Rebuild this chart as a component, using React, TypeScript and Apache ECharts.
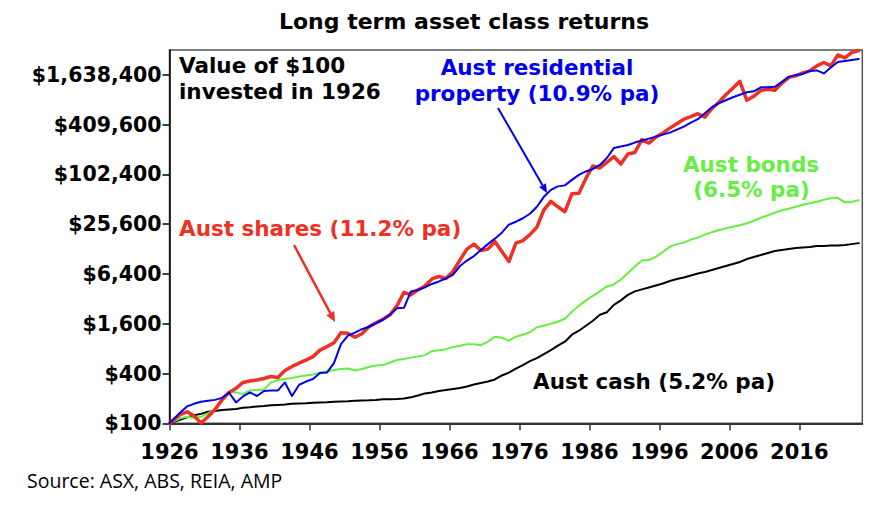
import React, { useEffect, useRef } from "react";
import * as echarts from "echarts";

// Financial years 1926..2024 (1926 = starting point, $100 invested)
const years: number[] = Array.from({ length: 99 }, (_, i) => 1926 + i);

const shares = [
  100, 127, 138, 123, 101, 120, 147, 192, 236, 264,
  312, 325, 334, 348, 368, 358, 435, 486, 535, 582,
  641, 767, 846, 945, 1247, 1229, 1100, 1213, 1472, 1645,
  1813, 2053, 2636, 3832, 3575, 4107, 4589, 5572, 5971, 5649,
  6860, 9436, 12800, 14703, 12278, 12800, 15759, 11943, 9051, 15117,
  16202, 19134, 23557, 38267, 48438, 41587, 36204, 59635, 60467, 91651,
  129608, 122624, 142817, 168673, 137001, 180777, 188457, 270234, 245248, 289628,
  323604, 371722, 421110, 477061, 511304, 555663, 504259, 638280, 764355, 941015,
  1126851, 1368228, 807936, 902676, 1066066, 1096049, 1066066, 1294418, 1528668, 1593590,
  1731789, 1830584, 2102723, 2317025, 2102723, 2852618, 2624881, 3057418, 3231744,
];

const property = [
  100, 134, 160, 172, 182, 187, 192, 203, 236, 179,
  211, 236, 214, 246, 250, 250, 312, 214, 291, 320,
  343, 406, 411, 535, 906, 1147, 1247, 1374, 1472, 1622,
  1788, 2053, 2459, 2493, 3940, 4107, 4402, 4850, 5198, 5649,
  6225, 7989, 9306, 10542, 12450, 14703, 17126, 20225, 25247, 27438,
  30234, 34250, 41587, 54874, 66629, 73418, 75482, 87918, 100989, 111278,
  119265, 133253, 161802, 213494, 222566, 232018, 248668, 262851, 277832, 293673,
  310415, 328120, 356577, 387502, 432947, 477061, 563405, 665395, 743424, 807936,
  877978, 941015, 1008558, 1036902, 1158513, 1158513, 1174692, 1349386, 1550008, 1638400,
  1684439, 1830584, 1856143, 1708032, 2017034, 2349466, 2415493, 2483323, 2553118,
];

const bonds = [
  100, 115, 120, 116, 120, 132, 147, 184, 240, 236,
  227, 250, 253, 257, 312, 334, 343, 353, 368, 379,
  389, 411, 423, 441, 453, 459, 435, 453, 479, 499,
  506, 543, 582, 598, 623, 641, 668, 746, 767, 789,
  834, 869, 906, 906, 882, 971, 1116, 1085, 999, 1116,
  1179, 1264, 1452, 1514, 1600, 1691, 1838, 2232, 2636, 3070,
  3478, 3940, 4525, 4784, 5495, 6580, 7879, 9306, 9436, 10397,
  11779, 13718, 14703, 15328, 16657, 17607, 19134, 20508, 21677, 22913,
  23885, 24900, 26319, 28209, 30656, 32855, 35213, 37742, 39345, 41587,
  43958, 45827, 47772, 50496, 52639, 53373, 47114, 47772, 49800,
];

const cash = [
  100, 110, 118, 125, 130, 138, 141, 145, 147, 149,
  154, 156, 160, 162, 165, 167, 169, 172, 174, 175,
  177, 179, 180, 182, 184, 185, 187, 189, 190, 192,
  195, 196, 197, 200, 206, 217, 230, 236, 246, 253,
  260, 268, 279, 295, 307, 320, 339, 379, 411, 459,
  506, 566, 615, 687, 767, 869, 971, 1179, 1318, 1514,
  1739, 2053, 2201, 2710, 3070, 3575, 3940, 4164, 4402, 4653,
  4918, 5271, 5572, 5808, 6139, 6490, 6765, 7151, 7558, 7989,
  8445, 8926, 9700, 10253, 10838, 11457, 12109, 12450, 12800, 13160,
  13343, 13530, 13910, 14000, 14104, 14150, 14301, 14703, 15117,
];

const xTickLabels = [1926, 1936, 1946, 1956, 1966, 1976, 1986, 1996, 2006, 2016];
const yTickLabels = ["$100", "$400", "$1,600", "$6,400", "$25,600", "$102,400", "$409,600", "$1,638,400"];

const TITLE = "Long term asset class returns";
const SOURCE = "Source: ASX, ABS, REIA, AMP";

const RED = "#EE3124";
const BLUE = "#0000EE";
const GREEN = "#66EE44";
const BLACK = "#000000";
const BOLD = '"DejaVu Sans", "Liberation Sans", sans-serif';

function arrow(x1: number, y1: number, x2: number, y2: number, color: string, w: number, hl: number, hw: number) {
  const dx = x2 - x1;
  const dy = y2 - y1;
  const len = Math.sqrt(dx * dx + dy * dy);
  const ux = dx / len;
  const uy = dy / len;
  const bx = x2 - ux * hl;
  const by = y2 - uy * hl;
  const px = -uy * hw;
  const py = ux * hw;
  return [
    { type: "line", shape: { x1, y1, x2: bx, y2: by }, style: { stroke: color, lineWidth: w }, z: 100 },
    {
      type: "polygon",
      shape: { points: [[x2, y2], [bx + px, by + py], [bx - px, by - py]] },
      style: { fill: color },
      z: 100,
    },
  ];
}

function label(text: string, x: number, y: number, color: string, align: string, size: number, weight = "bold", family = BOLD) {
  return {
    type: "text",
    x,
    y,
    z: 100,
    style: {
      text,
      fill: color,
      font: `${weight} ${size}px ${family}`,
      align,
      textAlign: align,
      verticalAlign: "middle",
      textVerticalAlign: "middle",
    },
  };
}

export default function App() {
  const ref = useRef<HTMLDivElement>(null);
  useEffect(() => {
    const chart = echarts.init(ref.current!, null, { renderer: "svg" });
    const xPos = (i: number) => (i === 0 ? years[i] : years[i] + 0.5);
    const toData = (vals: number[]) => vals.map((v, i) => [xPos(i), v / 100]);
    const mkSeries = (name: string, vals: number[], color: string, width: number, z: number) => ({
      name,
      type: "line",
      data: toData(vals),
      showSymbol: false,
      symbol: "none",
      z,
      lineStyle: { color, width, join: "round", cap: "round" },
      itemStyle: { color },
      emphasis: { disabled: true },
    });

    const option: any = {
      animation: false,
      backgroundColor: "#ffffff",
      grid: {
        left: 169.5,
        top: 50,
        right: 25.7,
        bottom: 92.7,
        show: true,
        borderColor: "#555555",
        borderWidth: 1.5,
        backgroundColor: "transparent",
        containLabel: false,
        outerBoundsMode: "none",
      },
      xAxis: {
        type: "value",
        min: 1926,
        max: 2025,
        interval: 10,
        splitLine: { show: false },
        axisLine: { show: true, lineStyle: { color: "#333333", width: 2 } },
        axisTick: { show: true, length: 7, customValues: xTickLabels, lineStyle: { color: "#333333", width: 1.5 } },
        axisLabel: {
          customValues: xTickLabels,
          formatter: (v: number) => String(v),
          color: "#000",
          fontFamily: BOLD,
          fontWeight: "bold",
          fontSize: 21,
          margin: 18,
        },
      },
      yAxis: {
        type: "log",
        logBase: 4,
        min: 1,
        max: 32768,
        splitLine: { show: false },
        minorTick: { show: false },
        axisLine: { show: true, lineStyle: { color: "#000", width: 1.5 } },
        axisTick: { show: true, length: 7, lineStyle: { color: "#000", width: 1.5 } },
        axisLabel: {
          showMaxLabel: false,
          formatter: (v: number) => {
            const idx = Math.round(Math.log(v) / Math.log(4));
            return yTickLabels[idx] ?? "";
          },
          color: "#000",
          fontFamily: BOLD,
          fontWeight: "bold",
          fontSize: 20.5,
          margin: 8,
        },
      },
      series: [
        mkSeries("Aust cash", cash, BLACK, 2, 2),
        mkSeries("Aust bonds", bonds, GREEN, 2, 3),
        mkSeries("Aust shares", shares, RED, 3.5, 4),
        mkSeries("Aust residential property", property, BLUE, 2, 5),
      ],
      graphic: [
        label(TITLE, 464, 21, "#000", "center", 22),
        label("Value of $100", 179, 65.5, BLACK, "left", 21.5),
        label("invested in 1926", 179, 91, BLACK, "left", 21.5),
        label("Aust residential", 537, 67.5, BLUE, "center", 21.5),
        label("property (10.9% pa)", 537, 93, BLUE, "center", 21.5),
        label("Aust shares (11.2% pa)", 179, 228.4, RED, "left", 21.5),
        label("Aust bonds", 751, 164.2, GREEN, "center", 21.5),
        label("(6.5% pa)", 751.5, 189.2, GREEN, "center", 21.5),
        label("Aust cash (5.2% pa)", 654, 381.7, BLACK, "center", 21.5),
        label(SOURCE, 27, 480.5, "#000", "left", 19.5, "normal", '"Open Sans", sans-serif'),
        ...arrow(498, 108, 547, 193, BLUE, 2, 9, 4),
        ...arrow(294, 245, 335, 322, RED, 2.5, 10, 4.5),
      ],
    };
    chart.setOption(option);
    return () => chart.dispose();
  }, []);
  return (
    <div
      ref={ref}
      style={{ position: "absolute", left: 0, top: 0, width: 888, height: 516, background: "#fff" }}
    />
  );
}
